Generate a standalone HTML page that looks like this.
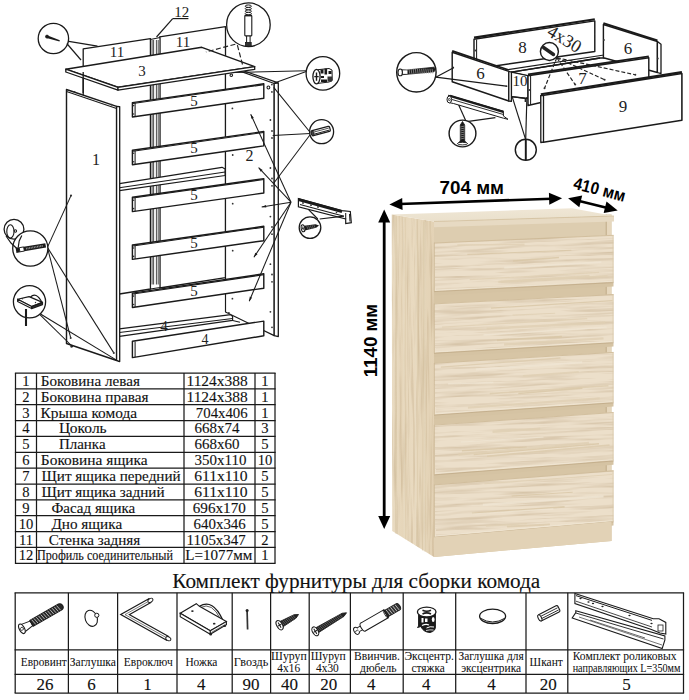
<!DOCTYPE html>
<html><head><meta charset="utf-8"><style>
html,body{margin:0;padding:0;background:#fff;}
body{width:689px;height:700px;overflow:hidden;position:relative;}
svg{position:absolute;left:0;top:0;}
</style></head><body>
<svg width="689" height="700" viewBox="0 0 689 700">
<defs>
<linearGradient id="sideg" x1="0" y1="0" x2="1" y2="0">
<stop offset="0" stop-color="#e9dbc2"/><stop offset="0.25" stop-color="#e6d6ba"/><stop offset="0.5" stop-color="#e9dac0"/>
<stop offset="0.75" stop-color="#e5d5b9"/><stop offset="1" stop-color="#e3d2b5"/>
</linearGradient>
<linearGradient id="topg" x1="0" y1="0" x2="0" y2="1">
<stop offset="0" stop-color="#efe6d5"/><stop offset="1" stop-color="#eae0cc"/>
</linearGradient>
<filter id="woodH" x="0" y="0" width="100%" height="100%" color-interpolation-filters="sRGB">
<feTurbulence type="fractalNoise" baseFrequency="0.014 0.38" numOctaves="3" seed="7"/>
<feColorMatrix type="matrix" values="0 0 0 0 0.62  0 0 0 0 0.50  0 0 0 0 0.33  0.75 0 0 0 -0.33"/>
</filter>
<filter id="woodV" x="0" y="0" width="100%" height="100%" color-interpolation-filters="sRGB">
<feTurbulence type="fractalNoise" baseFrequency="0.4 0.012" numOctaves="3" seed="11"/>
<feColorMatrix type="matrix" values="0 0 0 0 0.62  0 0 0 0 0.50  0 0 0 0 0.33  0.7 0 0 0 -0.31"/>
</filter>
<clipPath id="cpSide"><polygon points="391.8,214.4 434,221.5 434,557 392.2,531"/></clipPath>
</defs>
<polygon points="391.8,214.4 434,221.5 434,557 392.2,531" fill="url(#sideg)"/>
<g clip-path="url(#cpSide)"><rect x="390" y="212" width="46" height="346" filter="url(#woodV)"/></g>
<polygon points="434,221.5 611.5,214.4 611.5,540.9 434,557" fill="#d7c5a5"/>
<polygon points="606.5,214.4 611.5,214.4 611.5,540.9 606.5,540.9" fill="#e6d7bd"/>
<polygon points="434,226 606.5,218.7 606.5,235.3 434,243" fill="#ddcdb0"/>
<line x1="606.2" y1="214.4" x2="606.2" y2="540.9" stroke="#bfa987" stroke-width="0.9"/>
<polygon points="391.8,214.4 572,208.3 614,216 434,221.5" fill="url(#topg)"/>
<polygon points="434,221.5 614,216 614,221.5 434,227.2" fill="#e7dac3"/>
<line x1="434" y1="221.5" x2="614" y2="216" stroke="#cdb994" stroke-width="0.6"/>
<polygon points="434.0,291.4 613.5,282.4 613.5,286.4 434.0,295.4" fill="#d5c3a3"/>
<polygon points="434.0,242.7 613.5,235.0 613.5,282.4 434.0,291.4" fill="#ecdfca"/>
<clipPath id="cpD0"><polygon points="434.0,242.7 613.5,235.0 613.5,282.4 434.0,291.4"/></clipPath>
<g clip-path="url(#cpD0)"><rect x="434.0" y="233.0" width="179.5" height="60.4" filter="url(#woodH)" transform="rotate(-2.6 434.0 242.7)"/></g>
<line x1="467.3" y1="254.4" x2="571.4" y2="250.2" stroke="#d9c7a7" stroke-width="1.1" opacity="0.8"/>
<line x1="457.3" y1="245.2" x2="524.6" y2="244.3" stroke="#e0d0b4" stroke-width="1.7" opacity="0.8"/>
<line x1="469.7" y1="279.7" x2="599.1" y2="272.3" stroke="#e0d0b4" stroke-width="1.2" opacity="0.8"/>
<line x1="500.7" y1="281.9" x2="589.6" y2="275.8" stroke="#e0d0b4" stroke-width="2.1" opacity="0.8"/>
<line x1="504.2" y1="267.6" x2="601.3" y2="262.1" stroke="#f0e6d4" stroke-width="1.9" opacity="0.8"/>
<line x1="498.3" y1="281.8" x2="607.6" y2="276.0" stroke="#e0d0b4" stroke-width="2.2" opacity="0.8"/>
<line x1="513.1" y1="261.0" x2="559.0" y2="257.5" stroke="#d9c7a7" stroke-width="1.3" opacity="0.8"/>
<line x1="434.0" y1="290.2" x2="613.5" y2="281.2" stroke="#efe5d3" stroke-width="0.9"/>
<line x1="434.0" y1="291.59999999999997" x2="613.5" y2="282.6" stroke="#c2ad8a" stroke-width="0.9"/>
<line x1="434.0" y1="243.0" x2="613.5" y2="235.3" stroke="#cdb995" stroke-width="0.8"/>
<line x1="434.4" y1="242.7" x2="434.4" y2="291.4" stroke="#cbb794" stroke-width="0.8"/>
<line x1="613.1" y1="235.0" x2="613.1" y2="282.4" stroke="#d8c7a8" stroke-width="0.8"/>
<polygon points="434.0,353.1 613.5,342.5 613.5,346.5 434.0,357.1" fill="#d5c3a3"/>
<polygon points="434.0,303.6 613.5,294.3 613.5,342.5 434.0,353.1" fill="#ecdfca"/>
<clipPath id="cpD1"><polygon points="434.0,303.6 613.5,294.3 613.5,342.5 434.0,353.1"/></clipPath>
<g clip-path="url(#cpD1)"><rect x="434.0" y="292.3" width="179.5" height="62.8" filter="url(#woodH)" transform="rotate(-2.6 434.0 303.6)"/></g>
<line x1="504.1" y1="344.5" x2="603.5" y2="338.3" stroke="#e0d0b4" stroke-width="2.3" opacity="0.8"/>
<line x1="486.6" y1="328.6" x2="605.2" y2="322.7" stroke="#e0d0b4" stroke-width="2.4" opacity="0.8"/>
<line x1="496.9" y1="340.2" x2="561.9" y2="336.6" stroke="#d9c7a7" stroke-width="1.9" opacity="0.8"/>
<line x1="491.0" y1="308.1" x2="612.5" y2="300.7" stroke="#d9c7a7" stroke-width="1.2" opacity="0.8"/>
<line x1="442.0" y1="327.1" x2="587.3" y2="318.7" stroke="#e0d0b4" stroke-width="1.2" opacity="0.8"/>
<line x1="512.5" y1="315.1" x2="555.2" y2="313.3" stroke="#e0d0b4" stroke-width="1.1" opacity="0.8"/>
<line x1="483.6" y1="335.0" x2="606.5" y2="327.1" stroke="#f0e6d4" stroke-width="1.4" opacity="0.8"/>
<line x1="434.0" y1="351.90000000000003" x2="613.5" y2="341.3" stroke="#efe5d3" stroke-width="0.9"/>
<line x1="434.0" y1="353.3" x2="613.5" y2="342.7" stroke="#c2ad8a" stroke-width="0.9"/>
<line x1="434.0" y1="303.90000000000003" x2="613.5" y2="294.6" stroke="#cdb995" stroke-width="0.8"/>
<line x1="434.4" y1="303.6" x2="434.4" y2="353.1" stroke="#cbb794" stroke-width="0.8"/>
<line x1="613.1" y1="294.3" x2="613.1" y2="342.5" stroke="#d8c7a8" stroke-width="0.8"/>
<polygon points="434.0,414.9 613.5,402.6 613.5,406.6 434.0,418.9" fill="#d5c3a3"/>
<polygon points="434.0,363 613.5,352.1 613.5,402.6 434.0,414.9" fill="#ecdfca"/>
<clipPath id="cpD2"><polygon points="434.0,363 613.5,352.1 613.5,402.6 434.0,414.9"/></clipPath>
<g clip-path="url(#cpD2)"><rect x="434.0" y="350.1" width="179.5" height="66.8" filter="url(#woodH)" transform="rotate(-2.6 434.0 363)"/></g>
<line x1="440.9" y1="367.2" x2="560.4" y2="358.0" stroke="#dccbad" stroke-width="1.3" opacity="0.8"/>
<line x1="448.1" y1="383.8" x2="493.4" y2="382.4" stroke="#f0e6d4" stroke-width="1.5" opacity="0.8"/>
<line x1="467.9" y1="407.7" x2="599.8" y2="398.3" stroke="#e0d0b4" stroke-width="2.3" opacity="0.8"/>
<line x1="489.8" y1="393.6" x2="608.5" y2="385.8" stroke="#dccbad" stroke-width="1.6" opacity="0.8"/>
<line x1="518.3" y1="393.5" x2="582.4" y2="388.3" stroke="#d9c7a7" stroke-width="1.5" opacity="0.8"/>
<line x1="522.9" y1="375.9" x2="578.8" y2="371.9" stroke="#e0d0b4" stroke-width="1.9" opacity="0.8"/>
<line x1="476.0" y1="369.5" x2="582.2" y2="362.3" stroke="#f0e6d4" stroke-width="2.1" opacity="0.8"/>
<line x1="434.0" y1="413.7" x2="613.5" y2="401.4" stroke="#efe5d3" stroke-width="0.9"/>
<line x1="434.0" y1="415.09999999999997" x2="613.5" y2="402.8" stroke="#c2ad8a" stroke-width="0.9"/>
<line x1="434.0" y1="363.3" x2="613.5" y2="352.4" stroke="#cdb995" stroke-width="0.8"/>
<line x1="434.4" y1="363" x2="434.4" y2="414.9" stroke="#cbb794" stroke-width="0.8"/>
<line x1="613.1" y1="352.1" x2="613.1" y2="402.6" stroke="#d8c7a8" stroke-width="0.8"/>
<polygon points="434.0,474.7 613.5,460.8 613.5,464.8 434.0,478.7" fill="#d5c3a3"/>
<polygon points="434.0,424.8 613.5,412.2 613.5,460.8 434.0,474.7" fill="#ecdfca"/>
<clipPath id="cpD3"><polygon points="434.0,424.8 613.5,412.2 613.5,460.8 434.0,474.7"/></clipPath>
<g clip-path="url(#cpD3)"><rect x="434.0" y="410.2" width="179.5" height="66.5" filter="url(#woodH)" transform="rotate(-2.6 434.0 424.8)"/></g>
<line x1="487.0" y1="456.2" x2="609.6" y2="445.1" stroke="#dccbad" stroke-width="1.6" opacity="0.8"/>
<line x1="487.3" y1="451.4" x2="554.9" y2="445.8" stroke="#f0e6d4" stroke-width="1.5" opacity="0.8"/>
<line x1="461.0" y1="442.0" x2="543.5" y2="437.1" stroke="#f0e6d4" stroke-width="1.0" opacity="0.8"/>
<line x1="461.9" y1="450.7" x2="526.7" y2="447.1" stroke="#d9c7a7" stroke-width="1.4" opacity="0.8"/>
<line x1="492.5" y1="431.8" x2="540.3" y2="428.8" stroke="#e0d0b4" stroke-width="2.4" opacity="0.8"/>
<line x1="473.5" y1="454.5" x2="599.0" y2="443.8" stroke="#d9c7a7" stroke-width="1.5" opacity="0.8"/>
<line x1="458.4" y1="454.5" x2="589.0" y2="442.9" stroke="#e0d0b4" stroke-width="2.4" opacity="0.8"/>
<line x1="434.0" y1="473.5" x2="613.5" y2="459.6" stroke="#efe5d3" stroke-width="0.9"/>
<line x1="434.0" y1="474.9" x2="613.5" y2="461.0" stroke="#c2ad8a" stroke-width="0.9"/>
<line x1="434.0" y1="425.1" x2="613.5" y2="412.5" stroke="#cdb995" stroke-width="0.8"/>
<line x1="434.4" y1="424.8" x2="434.4" y2="474.7" stroke="#cbb794" stroke-width="0.8"/>
<line x1="613.1" y1="412.2" x2="613.1" y2="460.8" stroke="#d8c7a8" stroke-width="0.8"/>
<polygon points="434.0,537.2 613.5,521.6 613.5,525.6 434.0,541.2" fill="#d5c3a3"/>
<polygon points="434.0,484.6 613.5,470.4 613.5,521.6 434.0,537.2" fill="#ecdfca"/>
<clipPath id="cpD4"><polygon points="434.0,484.6 613.5,470.4 613.5,521.6 434.0,537.2"/></clipPath>
<g clip-path="url(#cpD4)"><rect x="434.0" y="468.4" width="179.5" height="70.8" filter="url(#woodH)" transform="rotate(-2.6 434.0 484.6)"/></g>
<line x1="511.7" y1="496.0" x2="572.7" y2="492.3" stroke="#d9c7a7" stroke-width="1.1" opacity="0.8"/>
<line x1="471.9" y1="513.3" x2="564.6" y2="506.9" stroke="#d9c7a7" stroke-width="1.7" opacity="0.8"/>
<line x1="471.8" y1="514.0" x2="553.4" y2="508.8" stroke="#f0e6d4" stroke-width="1.2" opacity="0.8"/>
<line x1="484.3" y1="483.8" x2="612.2" y2="474.5" stroke="#e0d0b4" stroke-width="1.0" opacity="0.8"/>
<line x1="482.9" y1="504.8" x2="603.5" y2="496.4" stroke="#f0e6d4" stroke-width="2.3" opacity="0.8"/>
<line x1="506.9" y1="526.6" x2="549.9" y2="524.5" stroke="#dccbad" stroke-width="2.0" opacity="0.8"/>
<line x1="485.9" y1="526.2" x2="527.1" y2="523.7" stroke="#e0d0b4" stroke-width="1.3" opacity="0.8"/>
<line x1="434.0" y1="536.0" x2="613.5" y2="520.4" stroke="#efe5d3" stroke-width="0.9"/>
<line x1="434.0" y1="537.4000000000001" x2="613.5" y2="521.8" stroke="#c2ad8a" stroke-width="0.9"/>
<line x1="434.0" y1="484.90000000000003" x2="613.5" y2="470.7" stroke="#cdb995" stroke-width="0.8"/>
<line x1="434.4" y1="484.6" x2="434.4" y2="537.2" stroke="#cbb794" stroke-width="0.8"/>
<line x1="613.1" y1="470.4" x2="613.1" y2="521.6" stroke="#d8c7a8" stroke-width="0.8"/>
<polygon points="434.0,537.2 611.5,521.6 611.5,540.9 434.0,557" fill="#e2d2b6"/>
<line x1="405.4" y1="218.3" x2="405.7" y2="539.3" stroke="#dccbac" stroke-width="0.9" opacity="0.6"/>
<line x1="396.0" y1="216.7" x2="396.8" y2="533.5" stroke="#d9c8a8" stroke-width="0.8" opacity="0.6"/>
<line x1="403.6" y1="218.0" x2="404.3" y2="538.2" stroke="#e8dcc5" stroke-width="1.1" opacity="0.6"/>
<line x1="396.3" y1="216.8" x2="395.8" y2="533.7" stroke="#d9c8a8" stroke-width="0.9" opacity="0.6"/>
<line x1="425.0" y1="221.7" x2="424.4" y2="551.5" stroke="#e8dcc5" stroke-width="1.2" opacity="0.6"/>
<line x1="424.6" y1="221.6" x2="425.3" y2="551.2" stroke="#d9c8a8" stroke-width="0.9" opacity="0.6"/>
<line x1="415.7" y1="220.1" x2="415.5" y2="545.7" stroke="#e8dcc5" stroke-width="0.7" opacity="0.6"/>
<line x1="417.5" y1="220.4" x2="417.5" y2="546.8" stroke="#d9c8a8" stroke-width="0.9" opacity="0.6"/>
<line x1="423.5" y1="221.4" x2="422.5" y2="550.5" stroke="#d9c8a8" stroke-width="1.1" opacity="0.6"/>
<line x1="399.8" y1="204.0" x2="551.7" y2="198.7" stroke="#000" stroke-width="2.6"/><polygon points="389.4,204.4 402.6,209.9 402.2,197.9" fill="#000"/><polygon points="562.1,198.3 549.3,204.8 548.9,192.8" fill="#000"/>
<line x1="578.2" y1="200.8" x2="607.6" y2="207.9" stroke="#000" stroke-width="2.6"/><polygon points="568.1,198.3 579.3,207.2 582.2,195.6" fill="#000"/><polygon points="617.7,210.4 603.6,213.1 606.5,201.5" fill="#000"/>
<line x1="384.2" y1="219.9" x2="384.2" y2="518.6" stroke="#000" stroke-width="2.8"/><polygon points="384.2,209.5 378.2,222.5 390.2,222.5" fill="#000"/><polygon points="384.2,529.0 378.2,516.0 390.2,516.0" fill="#000"/>
<text x="439.5" y="193.8" font-family="Liberation Sans, sans-serif" font-weight="bold" font-size="18.5" textLength="64.5" lengthAdjust="spacingAndGlyphs">704 мм</text>
<text transform="translate(572.5,188.5) rotate(14.6)" font-family="Liberation Sans, sans-serif" font-weight="bold" font-size="17" textLength="53" lengthAdjust="spacingAndGlyphs">410 мм</text>
<text transform="translate(377.3,377.3) rotate(-90)" font-family="Liberation Sans, sans-serif" font-weight="bold" font-size="18.5" textLength="73.5" lengthAdjust="spacingAndGlyphs">1140 мм</text>
<g transform="translate(21.9,628.8) rotate(-29.7)"><path d="M1,-4.2 L11,-2.6 L11,2.6 L1,4.2 Z" fill="#fff" stroke="#1a1a1a" stroke-width="1"/><ellipse cx="0" cy="0" rx="2.6" ry="5.2" fill="#fff" stroke="#1a1a1a" stroke-width="1.1"/><circle cx="0" cy="0" r="1.5" fill="none" stroke="#1a1a1a" stroke-width="0.8"/><path d="M11,-3.4 L44,-3.4 Q47,-3 47,0 Q47,3 44,3.4 L11,3.4 Z" fill="#2a2a2a" stroke="#1a1a1a" stroke-width="1"/><line x1="13.0" y1="-3" x2="14.2" y2="3" stroke="#ddd" stroke-width="0.7"/><line x1="15.6" y1="-3" x2="16.8" y2="3" stroke="#ddd" stroke-width="0.7"/><line x1="18.2" y1="-3" x2="19.4" y2="3" stroke="#ddd" stroke-width="0.7"/><line x1="20.8" y1="-3" x2="22.0" y2="3" stroke="#ddd" stroke-width="0.7"/><line x1="23.4" y1="-3" x2="24.6" y2="3" stroke="#ddd" stroke-width="0.7"/><line x1="26.0" y1="-3" x2="27.2" y2="3" stroke="#ddd" stroke-width="0.7"/><line x1="28.6" y1="-3" x2="29.8" y2="3" stroke="#ddd" stroke-width="0.7"/><line x1="31.2" y1="-3" x2="32.4" y2="3" stroke="#ddd" stroke-width="0.7"/><line x1="33.8" y1="-3" x2="35.0" y2="3" stroke="#ddd" stroke-width="0.7"/><line x1="36.4" y1="-3" x2="37.6" y2="3" stroke="#ddd" stroke-width="0.7"/><line x1="39.0" y1="-3" x2="40.2" y2="3" stroke="#ddd" stroke-width="0.7"/><line x1="41.6" y1="-3" x2="42.8" y2="3" stroke="#ddd" stroke-width="0.7"/></g>
<ellipse cx="91.2" cy="618.3" rx="6" ry="8.3" transform="rotate(-20 91.2 618.3)" fill="#fff" stroke="#1a1a1a" stroke-width="1.1"/>
<circle cx="96.8" cy="615.3" r="2.1" fill="#fff" stroke="#1a1a1a" stroke-width="1"/>
<polyline points="150.3,600.4 125,614.6 168.1,638.6" fill="none" stroke="#1a1a1a" stroke-width="5.4" stroke-linejoin="miter"/><polyline points="150.3,600.4 125,614.6 168.1,638.6" fill="none" stroke="#fff" stroke-width="3.0" stroke-linejoin="miter"/><polyline points="150.3,600.4 125,614.6 168.1,638.6" fill="none" stroke="#444" stroke-width="0.7" stroke-linejoin="miter"/><ellipse cx="168.3" cy="638.7" rx="1.8" ry="2.7" transform="rotate(-62 168.3 638.7)" fill="#fff" stroke="#1a1a1a" stroke-width="0.9"/><ellipse cx="150.4" cy="600.3" rx="1.8" ry="2.7" transform="rotate(60 150.4 600.3)" fill="#fff" stroke="#1a1a1a" stroke-width="0.9"/>
<path d="M199.4,606.3 Q213,598.5 222.5,619.6" fill="none" stroke="#1a1a1a" stroke-width="1.3"/>
<path d="M200.5,607.5 Q212,601.5 220.5,619.2" fill="none" stroke="#1a1a1a" stroke-width="0.7"/>
<polygon points="180.2,613.3 196.3,603.7 199.4,606.3 226.4,621.6 210.3,630.7" fill="#fff" stroke="#1a1a1a" stroke-width="1.1"/>
<polygon points="180.2,613.3 210.3,630.7 210.3,634.2 180.2,616.8" fill="#fff" stroke="#1a1a1a" stroke-width="1.1"/>
<polygon points="210.3,630.7 226.4,621.6 226.4,624.6 210.3,634.2" fill="#fff" stroke="#1a1a1a" stroke-width="1.1"/>
<line x1="211.3" y1="632.5" x2="225.5" y2="624.3" stroke="#1a1a1a" stroke-width="0.6"/>
<ellipse cx="210.8" cy="634.6" rx="1.3" ry="1" fill="#222"/><ellipse cx="224.8" cy="626" rx="1.3" ry="1" fill="#222"/>
<ellipse cx="192.4" cy="611.1" rx="1.3" ry="0.9" fill="#222"/><ellipse cx="214.2" cy="623.7" rx="1.3" ry="0.9" fill="#222"/>
<line x1="247.1" y1="611" x2="247.6" y2="629.6" stroke="#333" stroke-width="1.7"/>
<circle cx="247.1" cy="610.4" r="1.5" fill="#222"/>
<g transform="translate(279.6,625.2) rotate(-29.5)"><path d="M1,-3.1 L17.7,-2.0 L21.7,0 L17.7,2.0 L1,3.1 Z" fill="#222" stroke="#1a1a1a" stroke-width="0.8"/><line x1="3.0" y1="-2.5" x2="4.0" y2="2.5" stroke="#888" stroke-width="0.5"/><line x1="4.9" y1="-2.5" x2="5.9" y2="2.5" stroke="#888" stroke-width="0.5"/><line x1="6.8" y1="-2.5" x2="7.8" y2="2.5" stroke="#888" stroke-width="0.5"/><line x1="8.7" y1="-2.5" x2="9.7" y2="2.5" stroke="#888" stroke-width="0.5"/><line x1="10.6" y1="-2.5" x2="11.6" y2="2.5" stroke="#888" stroke-width="0.5"/><line x1="12.5" y1="-2.5" x2="13.5" y2="2.5" stroke="#888" stroke-width="0.5"/><line x1="14.4" y1="-2.5" x2="15.4" y2="2.5" stroke="#888" stroke-width="0.5"/><line x1="16.3" y1="-2.5" x2="17.3" y2="2.5" stroke="#888" stroke-width="0.5"/><ellipse cx="0" cy="0" rx="2.8" ry="5.1" fill="#fff" stroke="#1a1a1a" stroke-width="1.1"/><line x1="-2" y1="0" x2="2" y2="0" stroke="#1a1a1a" stroke-width="1"/><line x1="0" y1="-3" x2="0" y2="3" stroke="#1a1a1a" stroke-width="1"/></g>
<g transform="translate(315.3,631.3) rotate(-30.7)"><path d="M1,-2.8000000000000003 L32.3,-1.8 L36.3,0 L32.3,1.8 L1,2.8000000000000003 Z" fill="#222" stroke="#1a1a1a" stroke-width="0.8"/><line x1="3.0" y1="-2.2" x2="4.0" y2="2.2" stroke="#888" stroke-width="0.5"/><line x1="4.9" y1="-2.2" x2="5.9" y2="2.2" stroke="#888" stroke-width="0.5"/><line x1="6.8" y1="-2.2" x2="7.8" y2="2.2" stroke="#888" stroke-width="0.5"/><line x1="8.7" y1="-2.2" x2="9.7" y2="2.2" stroke="#888" stroke-width="0.5"/><line x1="10.6" y1="-2.2" x2="11.6" y2="2.2" stroke="#888" stroke-width="0.5"/><line x1="12.5" y1="-2.2" x2="13.5" y2="2.2" stroke="#888" stroke-width="0.5"/><line x1="14.4" y1="-2.2" x2="15.4" y2="2.2" stroke="#888" stroke-width="0.5"/><line x1="16.3" y1="-2.2" x2="17.3" y2="2.2" stroke="#888" stroke-width="0.5"/><line x1="18.2" y1="-2.2" x2="19.2" y2="2.2" stroke="#888" stroke-width="0.5"/><line x1="20.1" y1="-2.2" x2="21.1" y2="2.2" stroke="#888" stroke-width="0.5"/><line x1="22.0" y1="-2.2" x2="23.0" y2="2.2" stroke="#888" stroke-width="0.5"/><line x1="23.9" y1="-2.2" x2="24.9" y2="2.2" stroke="#888" stroke-width="0.5"/><line x1="25.8" y1="-2.2" x2="26.8" y2="2.2" stroke="#888" stroke-width="0.5"/><line x1="27.7" y1="-2.2" x2="28.7" y2="2.2" stroke="#888" stroke-width="0.5"/><line x1="29.6" y1="-2.2" x2="30.6" y2="2.2" stroke="#888" stroke-width="0.5"/><ellipse cx="0" cy="0" rx="2.8" ry="4.8" fill="#fff" stroke="#1a1a1a" stroke-width="1.1"/><line x1="-2" y1="0" x2="2" y2="0" stroke="#1a1a1a" stroke-width="1"/><line x1="0" y1="-3" x2="0" y2="3" stroke="#1a1a1a" stroke-width="1"/></g>
<g transform="translate(356.5,630.8) rotate(-30)"><ellipse cx="0" cy="0" rx="2.4" ry="3.8" fill="#fff" stroke="#1a1a1a" stroke-width="1"/><line x1="-1.5" y1="0" x2="1.5" y2="0" stroke="#1a1a1a" stroke-width="0.8"/><path d="M2,-2.2 L6,-2.2 L6,2.2 L2,2.2" fill="#fff" stroke="#1a1a1a" stroke-width="0.9"/><ellipse cx="7.5" cy="0" rx="2" ry="4.6" fill="#fff" stroke="#1a1a1a" stroke-width="1"/><path d="M7.5,-4.6 L34,-4.6 L34,4.6 L7.5,4.6" fill="#fff" stroke="#1a1a1a" stroke-width="1"/><path d="M34,-3.6 L48,-3.6 Q50,-3.6 50,0 Q50,3.6 48,3.6 L34,3.6 Z" fill="#333" stroke="#1a1a1a" stroke-width="0.9"/><line x1="36.0" y1="-3.3" x2="37.0" y2="3.3" stroke="#ccc" stroke-width="0.8"/><line x1="38.6" y1="-3.3" x2="39.6" y2="3.3" stroke="#ccc" stroke-width="0.8"/><line x1="41.2" y1="-3.3" x2="42.2" y2="3.3" stroke="#ccc" stroke-width="0.8"/><line x1="43.8" y1="-3.3" x2="44.8" y2="3.3" stroke="#ccc" stroke-width="0.8"/><line x1="46.4" y1="-3.3" x2="47.4" y2="3.3" stroke="#ccc" stroke-width="0.8"/><ellipse cx="34" cy="0" rx="1.4" ry="4.6" fill="none" stroke="#1a1a1a" stroke-width="0.8"/></g>
<path d="M418.6,613 L418.6,626 L417.5,627.5 L421,626.5 Q423,632 430,632.5 Q436,631 435.4,626 L435.4,613 Z" fill="#1a1a1a" stroke="#1a1a1a" stroke-width="1"/>
<rect x="421.5" y="618" width="2" height="4.5" fill="#fff"/><rect x="425" y="618.5" width="2.5" height="3.5" fill="#fff"/>
<path d="M422,625.5 Q426,623.5 429,625" fill="none" stroke="#fff" stroke-width="1.2"/>
<path d="M426.5,628 Q430,626 434,627" fill="none" stroke="#fff" stroke-width="1"/>
<path d="M426,630.5 Q430,629.5 433.5,630" fill="none" stroke="#fff" stroke-width="0.8"/>
<ellipse cx="433.2" cy="619.5" rx="1.4" ry="2.6" fill="#fff"/>
<ellipse cx="426.7" cy="612" rx="9.3" ry="4.9" fill="#fff" stroke="#1a1a1a" stroke-width="1.3"/>
<path d="M422.5,610.2 Q426.7,612.3 431,610.2 M422.5,614 Q426.7,611.8 431,614" fill="none" stroke="#1a1a1a" stroke-width="1.6"/>
<ellipse cx="492.6" cy="616.3" rx="13" ry="7.2" fill="#fff" stroke="#1a1a1a" stroke-width="1.3"/>
<path d="M480,618 Q492.6,626 505.3,618" fill="none" stroke="#1a1a1a" stroke-width="1"/>
<g transform="translate(539.3,618.2) rotate(-27)"><rect x="0" y="-3.4" width="22" height="6.8" rx="1.5" fill="#fff" stroke="#1a1a1a" stroke-width="1.1"/><line x1="2" y1="-1" x2="21" y2="-1" stroke="#1a1a1a" stroke-width="0.8"/><line x1="2" y1="1.4" x2="21" y2="1.4" stroke="#1a1a1a" stroke-width="0.8"/><ellipse cx="0.6" cy="0" rx="1.6" ry="3.4" fill="#fff" stroke="#1a1a1a" stroke-width="1"/></g>
<polygon points="574.9,593.6 653.2,618.8 659,618.8 665.8,622.4 665.8,634.1 660,633 651.4,629.6 574.9,603.5" fill="#fff" stroke="#1a1a1a" stroke-width="1.1"/>
<line x1="576" y1="595.6" x2="652" y2="620.4" stroke="#1a1a1a" stroke-width="1"/>
<line x1="576" y1="601.2" x2="652" y2="627" stroke="#1a1a1a" stroke-width="0.8"/>
<ellipse cx="580.5" cy="598.5" rx="1.2" ry="0.8" fill="#222"/>
<ellipse cx="588.5" cy="602" rx="1.2" ry="0.8" fill="#222"/>
<ellipse cx="593" cy="603.5" rx="1.2" ry="0.8" fill="#222"/>
<ellipse cx="602.5" cy="606.5" rx="1.2" ry="0.8" fill="#222"/>
<ellipse cx="629.5" cy="615.5" rx="1.2" ry="0.8" fill="#222"/>
<ellipse cx="651.5" cy="623.5" rx="1.2" ry="0.8" fill="#222"/>
<rect x="658" y="625" width="5" height="6" fill="#fff" stroke="#1a1a1a" stroke-width="0.8"/>
<polygon points="575.8,610.7 664.9,635.9 664.9,640 662.2,648.5 572.2,617.9 575.8,612.5" fill="#fff" stroke="#1a1a1a" stroke-width="1.1"/>
<line x1="575.8" y1="613" x2="663.5" y2="639" stroke="#1a1a1a" stroke-width="0.9"/>
<line x1="579" y1="617" x2="662" y2="645" stroke="#1a1a1a" stroke-width="0.6"/>
<line x1="590" y1="620" x2="645" y2="638" stroke="#555" stroke-width="0.9"/>
<g font-family="Liberation Serif, serif" fill="#222"><polygon points="83.2,48.9 150.5,38.7 150.5,289.0 119.4,294.0 83.2,294.0" fill="#fff" stroke="#1a1a1a" stroke-width="1.30" stroke-linejoin="round"/>
<polygon points="159.6,36.9 225.5,26.6 225.5,277.7 159.6,288.0" fill="#fff" stroke="#1a1a1a" stroke-width="1.30" stroke-linejoin="round"/>
<polygon points="150.5,39.5 160.0,37.5 160.0,287.5 150.5,289.0" fill="#fff" stroke="#1a1a1a" stroke-width="1.17" stroke-linejoin="round"/>
<line x1="152.1" y1="40.0" x2="152.1" y2="284.5" stroke="#1a1a1a" stroke-width="0.78" />
<line x1="153.6" y1="40.0" x2="153.6" y2="284.5" stroke="#1a1a1a" stroke-width="0.78" />
<line x1="156.4" y1="40.0" x2="156.4" y2="284.5" stroke="#1a1a1a" stroke-width="0.78" />
<line x1="158.2" y1="40.0" x2="158.2" y2="284.5" stroke="#1a1a1a" stroke-width="0.78" />
<polygon points="119.4,183.6 222.0,167.3 225.1,169.0 225.1,175.5 119.4,190.6" fill="#fff" stroke="#1a1a1a" stroke-width="1.17" stroke-linejoin="round"/>
<line x1="119.4" y1="187.7" x2="225.1" y2="172.0" stroke="#1a1a1a" stroke-width="1.04" />
<polygon points="119.4,328.9 230.8,314.7 232.6,316.5 232.6,320.4 119.4,336.4" fill="#fff" stroke="#1a1a1a" stroke-width="1.17" stroke-linejoin="round"/>
<line x1="119.4" y1="332.6" x2="232.6" y2="318.5" stroke="#1a1a1a" stroke-width="1.04" />
<line x1="232.6" y1="320.4" x2="240.0" y2="322.3" stroke="#1a1a1a" stroke-width="1.04" />
<text x="164" y="331" font-size="15" text-anchor="middle" >4</text>
<polygon points="225.5,65.9 274.2,83.5 274.2,335.6 225.5,312.0" fill="#fff" stroke="#1a1a1a" stroke-width="1.17" stroke-linejoin="round"/>
<polygon points="274.2,83.5 278.3,82.9 278.3,336.6 274.2,335.6" fill="#fff" stroke="#1a1a1a" stroke-width="1.30" stroke-linejoin="round"/>
<line x1="225.5" y1="64.5" x2="278.3" y2="82.9" stroke="#1a1a1a" stroke-width="1.30" />
<circle cx="232.7" cy="203.7" r="0.9" fill="#333"/>
<circle cx="232.7" cy="250.7" r="0.9" fill="#333"/>
<circle cx="232.4" cy="298.7" r="0.9" fill="#333"/>
<circle cx="270.4" cy="216.6" r="0.9" fill="#333"/>
<circle cx="272" cy="227" r="0.9" fill="#333"/>
<circle cx="272" cy="234.2" r="0.9" fill="#333"/>
<circle cx="270.4" cy="264.2" r="0.9" fill="#333"/>
<circle cx="272" cy="274.5" r="0.9" fill="#333"/>
<circle cx="272" cy="281.8" r="0.9" fill="#333"/>
<circle cx="270.4" cy="311.8" r="0.9" fill="#333"/>
<circle cx="272" cy="327.3" r="0.9" fill="#333"/>
<circle cx="228.9" cy="312.8" r="0.9" fill="#333"/>
<circle cx="232.4" cy="108.4" r="0.9" fill="#333"/>
<circle cx="232.7" cy="155" r="0.9" fill="#333"/>
<circle cx="270.4" cy="120" r="0.9" fill="#333"/>
<circle cx="272" cy="131" r="0.9" fill="#333"/>
<circle cx="272" cy="138" r="0.9" fill="#333"/>
<circle cx="270.4" cy="168" r="0.9" fill="#333"/>
<circle cx="272" cy="178.5" r="0.9" fill="#333"/>
<circle cx="272" cy="185.8" r="0.9" fill="#333"/>
<circle cx="271.9" cy="84.6" r="0.9" fill="#333"/>
<circle cx="271.9" cy="91.9" r="0.9" fill="#333"/>
<circle cx="231.3" cy="75.3" r="1.3" fill="#fff" stroke="#1a1a1a" stroke-width="1.04"/>
<circle cx="268.4" cy="87.5" r="1.4" fill="#fff" stroke="#1a1a1a" stroke-width="1.04"/>
<text x="249.5" y="161" font-size="16" text-anchor="middle" >2</text>
<polygon points="65.8,69.2 201.8,47.3 254.7,66.6 118.0,87.3" fill="#fff" stroke="#1a1a1a" stroke-width="1.43" stroke-linejoin="round"/>
<polygon points="65.8,69.2 118.0,87.3 118.0,90.2 65.8,72.0" fill="#fff" stroke="#1a1a1a" stroke-width="1.30" stroke-linejoin="round"/>
<polygon points="118.0,87.3 254.7,66.6 254.7,69.4 118.0,90.2" fill="#fff" stroke="#1a1a1a" stroke-width="1.30" stroke-linejoin="round"/>
<text x="142" y="76" font-size="15" text-anchor="middle" >3</text>
<text x="117" y="57" font-size="15" text-anchor="middle" >11</text>
<text x="183" y="46.5" font-size="15" text-anchor="middle" >11</text>
<polygon points="66.5,89.5 116.6,106.4 116.6,360.5 66.5,343.5" fill="#fff" stroke="#1a1a1a" stroke-width="1.43" stroke-linejoin="round"/>
<polygon points="116.6,106.4 119.7,106.6 119.7,361.6 116.6,360.5" fill="#fff" stroke="#1a1a1a" stroke-width="1.30" stroke-linejoin="round"/>
<line x1="66.5" y1="91.5" x2="116.6" y2="108.5" stroke="#1a1a1a" stroke-width="1.04" />
<circle cx="74.5" cy="91.8" r="0.9" fill="#333"/>
<circle cx="111.5" cy="104.7" r="0.9" fill="#333"/>
<text x="96" y="165" font-size="16" text-anchor="middle" >1</text>
<line x1="83.2" y1="72.0" x2="83.2" y2="93.0" stroke="#1a1a1a" stroke-width="1.30" />
<polygon points="132.4,102.6 263.8,83.8 263.8,98.2 132.4,117.0" fill="#fff" stroke="#1a1a1a" stroke-width="1.43" stroke-linejoin="round"/>
<line x1="133.0" y1="103.5" x2="263.8" y2="84.7" stroke="#1a1a1a" stroke-width="1.04" />
<line x1="135.1" y1="103.0" x2="135.1" y2="116.6" stroke="#1a1a1a" stroke-width="1.04" />
<circle cx="133.6" cy="105.6" r="0.8" fill="#333"/>
<circle cx="133.6" cy="114.0" r="0.8" fill="#333"/>
<text x="194" y="105.69999999999999" font-size="15" text-anchor="middle" >5</text>
<polygon points="132.4,150.3 263.8,131.5 263.8,145.9 132.4,164.7" fill="#fff" stroke="#1a1a1a" stroke-width="1.43" stroke-linejoin="round"/>
<line x1="133.0" y1="151.2" x2="263.8" y2="132.4" stroke="#1a1a1a" stroke-width="1.04" />
<line x1="135.1" y1="150.7" x2="135.1" y2="164.3" stroke="#1a1a1a" stroke-width="1.04" />
<circle cx="133.6" cy="153.3" r="0.8" fill="#333"/>
<circle cx="133.6" cy="161.70000000000002" r="0.8" fill="#333"/>
<text x="194" y="153.4" font-size="15" text-anchor="middle" >5</text>
<polygon points="132.4,197.2 263.8,178.6 263.8,193.0 132.4,211.6" fill="#fff" stroke="#1a1a1a" stroke-width="1.43" stroke-linejoin="round"/>
<line x1="133.0" y1="198.1" x2="263.8" y2="179.5" stroke="#1a1a1a" stroke-width="1.04" />
<line x1="135.1" y1="197.6" x2="135.1" y2="211.2" stroke="#1a1a1a" stroke-width="1.04" />
<circle cx="133.6" cy="200.2" r="0.8" fill="#333"/>
<circle cx="133.6" cy="208.6" r="0.8" fill="#333"/>
<text x="194" y="200.39999999999998" font-size="15" text-anchor="middle" >5</text>
<polygon points="132.4,245.0 263.8,226.3 263.8,240.7 132.4,259.4" fill="#fff" stroke="#1a1a1a" stroke-width="1.43" stroke-linejoin="round"/>
<line x1="133.0" y1="245.9" x2="263.8" y2="227.2" stroke="#1a1a1a" stroke-width="1.04" />
<line x1="135.1" y1="245.4" x2="135.1" y2="259.0" stroke="#1a1a1a" stroke-width="1.04" />
<circle cx="133.6" cy="248" r="0.8" fill="#333"/>
<circle cx="133.6" cy="256.4" r="0.8" fill="#333"/>
<text x="194" y="248.15" font-size="15" text-anchor="middle" >5</text>
<polygon points="132.4,293.1 263.8,273.8 263.8,288.2 132.4,307.5" fill="#fff" stroke="#1a1a1a" stroke-width="1.43" stroke-linejoin="round"/>
<line x1="133.0" y1="294.0" x2="263.8" y2="274.7" stroke="#1a1a1a" stroke-width="1.04" />
<line x1="135.1" y1="293.5" x2="135.1" y2="307.1" stroke="#1a1a1a" stroke-width="1.04" />
<circle cx="133.6" cy="296.1" r="0.8" fill="#333"/>
<circle cx="133.6" cy="304.5" r="0.8" fill="#333"/>
<text x="194" y="295.95000000000005" font-size="15" text-anchor="middle" >5</text>
<polygon points="132.4,341.2 263.8,321.1 263.8,335.8 132.4,357.6" fill="#fff" stroke="#1a1a1a" stroke-width="1.43" stroke-linejoin="round"/>
<line x1="135.1" y1="341.6" x2="135.1" y2="357.2" stroke="#1a1a1a" stroke-width="1.04" />
<text x="205" y="344" font-size="14" text-anchor="middle" >4</text>
<circle cx="53.4" cy="38.5" r="15.2" fill="#fff" stroke="#1a1a1a" stroke-width="1.30"/>
<path d="M47,35.2 L59.8,40.2 L59.5,41.6 L46.6,38 Z" fill="#1a1a1a"/>
<circle cx="47" cy="36.6" r="1.5" fill="#1a1a1a" stroke="#1a1a1a" stroke-width="0.78"/>
<line x1="68.8" y1="41.4" x2="97.5" y2="46.2" stroke="#1a1a1a" stroke-width="1.17" />
<line x1="66.8" y1="43.5" x2="81.0" y2="60.0" stroke="#1a1a1a" stroke-width="1.17" />
<line x1="47.4" y1="247.4" x2="71.0" y2="195.6" stroke="#1a1a1a" stroke-width="1.04" />
<line x1="47.4" y1="247.4" x2="70.7" y2="337.9" stroke="#1a1a1a" stroke-width="1.04" />
<line x1="47.4" y1="247.4" x2="113.8" y2="352.9" stroke="#1a1a1a" stroke-width="1.04" />
<circle cx="71" cy="195.6" r="1.1" fill="#333"/>
<circle cx="70.7" cy="337.9" r="1.0" fill="#333"/>
<circle cx="113.8" cy="352.9" r="1.0" fill="#333"/>
<circle cx="71.5" cy="346.5" r="1.2" fill="#333"/>
<circle cx="14" cy="229.2" r="9.9" fill="#fff" stroke="#1a1a1a" stroke-width="1.30"/>
<ellipse cx="10.4" cy="231.4" rx="3.6" ry="6.6" fill="#fff" stroke="#1a1a1a" stroke-width="1.1"/>
<circle cx="15.4" cy="231" r="1.2" fill="#fff" stroke="#1a1a1a" stroke-width="1.04"/>
<circle cx="30.3" cy="248.5" r="17.6" fill="#fff" stroke="#1a1a1a" stroke-width="1.30"/>
<polyline points="6.0,236.0 11.0,243.0 16.8,248.5" fill="none" stroke="#1a1a1a" stroke-width="1.17" />
<polyline points="21.8,235.5 19.2,241.0 18.2,247.5" fill="none" stroke="#1a1a1a" stroke-width="1.17" />
<g transform="translate(17.6,250.1) rotate(-9.7)"><rect x="-1.6" y="-2.6" width="3.6" height="5.2" fill="#1a1a1a"/><rect x="2" y="-2.1" width="4.5" height="4.2" fill="#fff" stroke="#1a1a1a" stroke-width="0.9"/><rect x="6.5" y="-2.2" width="22" height="4.4" fill="#1a1a1a"/><line x1="9.0" y1="-0.9" x2="9.0" y2="0.9" stroke="#bbb" stroke-width="0.7"/><line x1="10.6" y1="-0.9" x2="10.6" y2="0.9" stroke="#bbb" stroke-width="0.7"/><line x1="12.2" y1="-0.9" x2="12.2" y2="0.9" stroke="#bbb" stroke-width="0.7"/><line x1="13.8" y1="-0.9" x2="13.8" y2="0.9" stroke="#bbb" stroke-width="0.7"/><line x1="15.4" y1="-0.9" x2="15.4" y2="0.9" stroke="#bbb" stroke-width="0.7"/><line x1="17.0" y1="-0.9" x2="17.0" y2="0.9" stroke="#bbb" stroke-width="0.7"/><line x1="18.6" y1="-0.9" x2="18.6" y2="0.9" stroke="#bbb" stroke-width="0.7"/><line x1="20.2" y1="-0.9" x2="20.2" y2="0.9" stroke="#bbb" stroke-width="0.7"/><line x1="21.8" y1="-0.9" x2="21.8" y2="0.9" stroke="#bbb" stroke-width="0.7"/><line x1="23.4" y1="-0.9" x2="23.4" y2="0.9" stroke="#bbb" stroke-width="0.7"/><line x1="25.0" y1="-0.9" x2="25.0" y2="0.9" stroke="#bbb" stroke-width="0.7"/></g>
<line x1="26.0" y1="309.0" x2="26.0" y2="326.0" stroke="#1a1a1a" stroke-width="2.08" />
<circle cx="29.5" cy="301.8" r="16.1" fill="none" stroke="#1a1a1a" stroke-width="1.30"/>
<polygon points="17.6,299.2 29.1,296.6 42.5,302.4 31.6,306.6" fill="#fff" stroke="#1a1a1a" stroke-width="1.17" stroke-linejoin="round"/>
<polygon points="17.6,299.2 31.6,306.6 31.6,308.6 17.6,301.4" fill="#fff" stroke="#1a1a1a" stroke-width="1.17" stroke-linejoin="round"/>
<polygon points="31.6,306.6 42.5,302.4 42.5,304.6 31.6,308.6" fill="#333" stroke="#1a1a1a" stroke-width="1.17" stroke-linejoin="round"/>
<circle cx="22.5" cy="298.7" r="0.7" fill="#333"/>
<circle cx="35.5" cy="302.5" r="0.7" fill="#333"/>
<path d="M30.5,297 Q36,291.5 41.8,302" fill="none" stroke="#1a1a1a" stroke-width="1.2"/>
<line x1="39.9" y1="314.6" x2="72.9" y2="347.0" stroke="#1a1a1a" stroke-width="1.04" />
<line x1="40.5" y1="314.0" x2="119.0" y2="361.6" stroke="#1a1a1a" stroke-width="1.04" />
<text x="181.8" y="17" font-size="15" text-anchor="middle" >12</text>
<line x1="172.7" y1="18.6" x2="188.4" y2="18.6" stroke="#1a1a1a" stroke-width="1.17" />
<line x1="172.7" y1="18.6" x2="156.5" y2="37.0" stroke="#1a1a1a" stroke-width="1.17" />
<line x1="235.3" y1="44.2" x2="205.9" y2="52.0" stroke="#222" stroke-width="1.17" stroke-dasharray="5,2.5"/>
<line x1="237.4" y1="45.2" x2="242.5" y2="64.5" stroke="#222" stroke-width="1.17" stroke-dasharray="5,2.5"/>
<circle cx="248.4" cy="24.7" r="21.8" fill="#fff" stroke="#1a1a1a" stroke-width="1.30"/>
<rect x="244.8" y="15.6" width="7" height="20.3" rx="0.6" fill="#fff" stroke="#1a1a1a" stroke-width="1.1"/>
<ellipse cx="248.3" cy="6.2" rx="3.1" ry="1.25" fill="#fff" stroke="#1a1a1a" stroke-width="1"/>
<ellipse cx="248.3" cy="8.7" rx="3.1" ry="1.25" fill="#fff" stroke="#1a1a1a" stroke-width="1"/>
<ellipse cx="248.3" cy="11.2" rx="3.1" ry="1.25" fill="#fff" stroke="#1a1a1a" stroke-width="1"/>
<ellipse cx="248.3" cy="13.6" rx="3.1" ry="1.25" fill="#fff" stroke="#1a1a1a" stroke-width="1"/>
<rect x="244.8" y="14.6" width="7" height="1.6" fill="#1a1a1a"/>
<line x1="246.6" y1="36.0" x2="246.6" y2="42.6" stroke="#1a1a1a" stroke-width="1.04" />
<line x1="250.1" y1="36.0" x2="250.1" y2="42.6" stroke="#1a1a1a" stroke-width="1.04" />
<rect x="245.4" y="42.4" width="5.8" height="3.8" fill="#333" stroke="#1a1a1a" stroke-width="0.8"/>
<line x1="306.2" y1="70.7" x2="234.0" y2="72.5" stroke="#1a1a1a" stroke-width="1.04" />
<line x1="306.2" y1="71.5" x2="273.7" y2="83.3" stroke="#1a1a1a" stroke-width="1.04" />
<circle cx="322.9" cy="73.4" r="16.8" fill="#fff" stroke="#1a1a1a" stroke-width="1.30"/>
<path d="M317,69.8 L329,68.5 L332,70 L332.3,80.5 L329,82 L317,83.5 Z" fill="#fff" stroke="#1a1a1a" stroke-width="1"/>
<rect x="320.5" y="69.5" width="3" height="4" fill="#1a1a1a"/><rect x="324.5" y="68.5" width="2.6" height="6" fill="#1a1a1a"/>
<rect x="321" y="76" width="3" height="2" fill="#1a1a1a"/><rect x="321" y="79.5" width="6" height="2.5" fill="#1a1a1a"/>
<rect x="327.5" y="76.5" width="4.5" height="5" fill="#333"/><rect x="328.5" y="71" width="3" height="3" fill="#1a1a1a"/>
<ellipse cx="316.5" cy="76.6" rx="3.6" ry="7.3" fill="#fff" stroke="#1a1a1a" stroke-width="1.3"/>
<path d="M316.5,72.5 L316.5,80.7 M314.3,76.6 L318.7,76.6" stroke="#1a1a1a" stroke-width="1.4"/>
<line x1="310.3" y1="133.5" x2="272.7" y2="135.6" stroke="#1a1a1a" stroke-width="1.04" />
<line x1="310.3" y1="134.5" x2="273.7" y2="183.3" stroke="#1a1a1a" stroke-width="1.04" />
<line x1="310.3" y1="132.5" x2="273.7" y2="87.4" stroke="#1a1a1a" stroke-width="1.04" />
<circle cx="321.6" cy="131.7" r="12" fill="#fff" stroke="#1a1a1a" stroke-width="1.30"/>
<g transform="translate(311.6,133.5) rotate(-15)"><rect x="0" y="-2.6" width="19" height="5.2" rx="1.2" fill="#fff" stroke="#1a1a1a" stroke-width="1.2"/><line x1="2.5" y1="-0.8" x2="18" y2="-0.8" stroke="#1a1a1a" stroke-width="0.7"/><line x1="2.5" y1="1.3" x2="18" y2="1.3" stroke="#1a1a1a" stroke-width="0.9"/><ellipse cx="1" cy="0" rx="1.4" ry="2.6" fill="#444" stroke="#1a1a1a" stroke-width="0.8"/></g>
<line x1="291.0" y1="202.2" x2="250.7" y2="114.2" stroke="#1a1a1a" stroke-width="1.04" />
<polygon points="250.7,114.2 251.4,118.8 253.8,117.8" fill="#1a1a1a"/>
<line x1="291.0" y1="202.2" x2="258.6" y2="167.6" stroke="#1a1a1a" stroke-width="1.04" />
<polygon points="258.6,167.6 260.7,171.8 262.6,170.0" fill="#1a1a1a"/>
<line x1="291.0" y1="202.2" x2="261.7" y2="206.9" stroke="#1a1a1a" stroke-width="1.04" />
<polygon points="261.7,206.9 266.3,207.5 265.9,204.9" fill="#1a1a1a"/>
<line x1="291.0" y1="202.2" x2="253.9" y2="257.2" stroke="#1a1a1a" stroke-width="1.04" />
<polygon points="253.9,257.2 257.5,254.2 255.3,252.7" fill="#1a1a1a"/>
<line x1="291.0" y1="202.2" x2="249.2" y2="301.3" stroke="#1a1a1a" stroke-width="1.04" />
<polygon points="249.2,301.3 252.1,297.7 249.8,296.6" fill="#1a1a1a"/>
<polygon points="298.4,198.5 342,210.6 350.3,211.5 351.3,222.7 345.7,223.6 345.7,219 298.4,206.9" fill="#fff" stroke="#1a1a1a" stroke-width="1.2"/>
<line x1="298.6" y1="199.6" x2="342.0" y2="211.6" stroke="#1a1a1a" stroke-width="2.86" />
<line x1="300.0" y1="204.5" x2="344.0" y2="216.2" stroke="#1a1a1a" stroke-width="1.04" />
<line x1="345.7" y1="213.0" x2="345.7" y2="219.0" stroke="#1a1a1a" stroke-width="1.04" />
<line x1="349.5" y1="214.0" x2="350.0" y2="221.5" stroke="#1a1a1a" stroke-width="1.04" />
<circle cx="303" cy="203" r="0.9" fill="#333"/>
<circle cx="311" cy="205.2" r="0.9" fill="#333"/>
<circle cx="318" cy="207" r="0.9" fill="#333"/>
<circle cx="336.5" cy="212.5" r="0.8" fill="#333"/>
<line x1="308.6" y1="209.7" x2="317.8" y2="219.0" stroke="#1a1a1a" stroke-width="1.17" />
<line x1="319.7" y1="219.0" x2="343.8" y2="216.2" stroke="#1a1a1a" stroke-width="1.17" />
<circle cx="310" cy="227.6" r="10.8" fill="#fff" stroke="#1a1a1a" stroke-width="1.30"/>
<g transform="translate(303,228.3) rotate(-10)"><path d="M1.5,-2.4 L13,-1.8 L16.3,0 L13,1.8 L1.5,2.4 Z" fill="#1a1a1a"/><line x1="4.0" y1="-1.8" x2="4.8" y2="1.8" stroke="#999" stroke-width="0.5"/><line x1="5.8" y1="-1.8" x2="6.6" y2="1.8" stroke="#999" stroke-width="0.5"/><line x1="7.6" y1="-1.8" x2="8.4" y2="1.8" stroke="#999" stroke-width="0.5"/><line x1="9.4" y1="-1.8" x2="10.2" y2="1.8" stroke="#999" stroke-width="0.5"/><line x1="11.2" y1="-1.8" x2="12.0" y2="1.8" stroke="#999" stroke-width="0.5"/><ellipse cx="0" cy="0" rx="1.8" ry="3.6" fill="#fff" stroke="#1a1a1a" stroke-width="1"/><path d="M-1,0 L1,0 M0,-1.8 L0,1.8" stroke="#1a1a1a" stroke-width="0.8"/></g><polygon points="474.0,39.2 594.8,20.9 594.8,51.5 474.0,69.0" fill="#fff" stroke="#1a1a1a" stroke-width="1.43" stroke-linejoin="round"/>
<line x1="476.6" y1="39.5" x2="476.6" y2="68.0" stroke="#1a1a1a" stroke-width="1.04" />
<line x1="474.0" y1="37.6" x2="594.8" y2="19.3" stroke="#1a1a1a" stroke-width="2.08" />
<circle cx="475.3" cy="50.5" r="0.9" fill="#333"/>
<text x="522.5" y="53" font-size="17" text-anchor="middle" >8</text>
<polygon points="511.4,72.2 600.0,58.0 648.8,57.7 527.0,76.0" fill="#fff" stroke="#1a1a1a" stroke-width="1.30" stroke-linejoin="round"/>
<line x1="511.4" y1="72.2" x2="600.0" y2="58.0" stroke="#1a1a1a" stroke-width="1.30" />
<line x1="505.0" y1="70.0" x2="604.0" y2="55.0" stroke="#1a1a1a" stroke-width="1.17" />
<polygon points="511.4,72.2 528.0,75.7 528.0,98.5 511.4,96.6" fill="#fff" stroke="#1a1a1a" stroke-width="1.30" stroke-linejoin="round"/>
<text x="520" y="86" font-size="15" text-anchor="middle" >10</text>
<line x1="511.4" y1="96.6" x2="525.3" y2="98.4" stroke="#1a1a1a" stroke-width="1.30" />
<line x1="525.3" y1="98.4" x2="525.3" y2="102.0" stroke="#1a1a1a" stroke-width="1.30" />
<polygon points="603.4,24.5 657.4,41.5 657.4,72.5 603.4,57.7" fill="#fff" stroke="#1a1a1a" stroke-width="1.43" stroke-linejoin="round"/>
<polygon points="657.4,41.5 661.0,44.2 661.0,73.6 657.4,72.5" fill="#fff" stroke="#1a1a1a" stroke-width="1.30" stroke-linejoin="round"/>
<line x1="603.4" y1="23.2" x2="657.4" y2="40.3" stroke="#1a1a1a" stroke-width="1.82" />
<circle cx="603.9" cy="40" r="0.9" fill="#333"/>
<circle cx="657.8" cy="58.5" r="0.9" fill="#333"/>
<text x="628" y="53.5" font-size="17" text-anchor="middle" >6</text>
<polygon points="452.2,52.2 508.8,71.4 508.8,101.0 452.2,81.8" fill="#fff" stroke="#1a1a1a" stroke-width="1.43" stroke-linejoin="round"/>
<polygon points="508.8,71.4 511.4,72.2 511.4,101.4 508.8,101.0" fill="#fff" stroke="#1a1a1a" stroke-width="1.30" stroke-linejoin="round"/>
<line x1="452.2" y1="50.8" x2="508.8" y2="70.0" stroke="#1a1a1a" stroke-width="1.82" />
<circle cx="453" cy="67.5" r="0.9" fill="#333"/>
<circle cx="506.5" cy="86.2" r="0.9" fill="#333"/>
<text x="480.5" y="78.5" font-size="17" text-anchor="middle" >6</text>
<polygon points="528.0,75.7 648.8,57.7 648.8,77.5 528.0,105.5" fill="#fff" stroke="#1a1a1a" stroke-width="1.43" stroke-linejoin="round"/>
<line x1="530.6" y1="75.5" x2="530.6" y2="105.0" stroke="#1a1a1a" stroke-width="1.04" />
<line x1="528.0" y1="74.3" x2="648.8" y2="56.3" stroke="#1a1a1a" stroke-width="1.82" />
<circle cx="529.3" cy="90" r="0.9" fill="#333"/>
<polygon points="540.8,95.7 681.9,73.6 681.9,120.2 543.3,142.3" fill="#fff" stroke="#1a1a1a" stroke-width="1.56" stroke-linejoin="round"/>
<polygon points="540.8,95.7 543.5,95.3 543.5,142.0 540.8,142.5" fill="#fff" stroke="#1a1a1a" stroke-width="1.30" stroke-linejoin="round"/>
<line x1="540.8" y1="94.2" x2="681.9" y2="72.1" stroke="#1a1a1a" stroke-width="2.08" />
<text x="623" y="112" font-size="17" text-anchor="middle" >9</text>
<text x="582.5" y="84" font-size="17" text-anchor="middle" >7</text>
<line x1="435.8" y1="77.2" x2="454.0" y2="67.5" stroke="#1a1a1a" stroke-width="1.17" />
<line x1="435.8" y1="77.2" x2="506.2" y2="86.2" stroke="#1a1a1a" stroke-width="1.17" />
<circle cx="416.4" cy="72.3" r="19.7" fill="#fff" stroke="#1a1a1a" stroke-width="1.43"/>
<polygon points="401,69.8 407,70 434,67.2 435.5,69.5 434,71.8 407,74.3 401,74.8" fill="#1a1a1a" stroke="#1a1a1a" stroke-width="0.8"/>
<line x1="409.0" y1="68.8" x2="409.7" y2="73.6" stroke="#aaa" stroke-width="0.65" />
<line x1="411.1" y1="68.8" x2="411.8" y2="73.6" stroke="#aaa" stroke-width="0.65" />
<line x1="413.2" y1="68.8" x2="413.9" y2="73.6" stroke="#aaa" stroke-width="0.65" />
<line x1="415.3" y1="68.8" x2="416.0" y2="73.6" stroke="#aaa" stroke-width="0.65" />
<line x1="417.4" y1="68.8" x2="418.1" y2="73.6" stroke="#aaa" stroke-width="0.65" />
<line x1="419.5" y1="68.8" x2="420.2" y2="73.6" stroke="#aaa" stroke-width="0.65" />
<line x1="421.6" y1="68.8" x2="422.3" y2="73.6" stroke="#aaa" stroke-width="0.65" />
<line x1="423.7" y1="68.8" x2="424.4" y2="73.6" stroke="#aaa" stroke-width="0.65" />
<line x1="425.8" y1="68.8" x2="426.5" y2="73.6" stroke="#aaa" stroke-width="0.65" />
<line x1="427.9" y1="68.8" x2="428.6" y2="73.6" stroke="#aaa" stroke-width="0.65" />
<line x1="430.0" y1="68.8" x2="430.7" y2="73.6" stroke="#aaa" stroke-width="0.65" />
<line x1="432.1" y1="68.8" x2="432.8" y2="73.6" stroke="#aaa" stroke-width="0.65" />
<rect x="402.5" y="70.3" width="5" height="3.6" fill="#fff"/>
<ellipse cx="400.2" cy="72.4" rx="2.2" ry="3.4" fill="#fff" stroke="#1a1a1a" stroke-width="1.1"/>
<polygon points="448.5,95.2 503.4,111.3 503.4,116 508,119.3 503.4,118.2 453.5,103.5 448.5,102.5" fill="#fff" stroke="#1a1a1a" stroke-width="1"/>
<line x1="450.0" y1="95.8" x2="503.4" y2="111.8" stroke="#1a1a1a" stroke-width="2.34" />
<line x1="452.0" y1="99.5" x2="503.4" y2="114.5" stroke="#1a1a1a" stroke-width="0.91" />
<ellipse cx="449.3" cy="99.5" rx="2.3" ry="3.4" fill="#fff" stroke="#1a1a1a" stroke-width="1"/>
<circle cx="449.3" cy="99.5" r="1" fill="#fff" stroke="#1a1a1a" stroke-width="0.78"/>
<line x1="458.7" y1="105.0" x2="465.9" y2="120.9" stroke="#1a1a1a" stroke-width="1.17" />
<line x1="466.7" y1="121.7" x2="495.4" y2="117.7" stroke="#1a1a1a" stroke-width="1.17" />
<circle cx="462.5" cy="133.5" r="13.4" fill="#fff" stroke="#1a1a1a" stroke-width="1.43"/>
<polygon points="460.3,125 462.5,121.5 464.7,125 464.7,141 467.5,143.5 457.5,143.5 460.3,141" fill="#1a1a1a" stroke="#1a1a1a" stroke-width="0.8"/>
<line x1="460.3" y1="127.0" x2="464.7" y2="126.0" stroke="#aaa" stroke-width="0.65" />
<line x1="460.3" y1="129.0" x2="464.7" y2="128.0" stroke="#aaa" stroke-width="0.65" />
<line x1="460.3" y1="131.0" x2="464.7" y2="130.0" stroke="#aaa" stroke-width="0.65" />
<line x1="460.3" y1="133.0" x2="464.7" y2="132.0" stroke="#aaa" stroke-width="0.65" />
<line x1="460.3" y1="135.0" x2="464.7" y2="134.0" stroke="#aaa" stroke-width="0.65" />
<line x1="460.3" y1="137.0" x2="464.7" y2="136.0" stroke="#aaa" stroke-width="0.65" />
<line x1="460.3" y1="139.0" x2="464.7" y2="138.0" stroke="#aaa" stroke-width="0.65" />
<ellipse cx="462.5" cy="143.6" rx="5" ry="1.3" fill="#fff" stroke="#1a1a1a" stroke-width="0.9"/>
<line x1="525.7" y1="139.6" x2="512.3" y2="97.1" stroke="#1a1a1a" stroke-width="1.17" />
<line x1="525.7" y1="139.6" x2="526.9" y2="97.1" stroke="#1a1a1a" stroke-width="1.17" />
<circle cx="525.8" cy="149.8" r="10.5" fill="#fff" stroke="#1a1a1a" stroke-width="1.43"/>
<line x1="525.8" y1="139.5" x2="525.8" y2="160.0" stroke="#1a1a1a" stroke-width="1.95" />
<line x1="556.8" y1="57.7" x2="635.3" y2="74.8" stroke="#222" stroke-width="1.17" stroke-dasharray="4,2"/>
<circle cx="635.3" cy="74.8" r="1.0" fill="#333"/>
<line x1="556.8" y1="57.7" x2="604.6" y2="79.7" stroke="#222" stroke-width="1.17" stroke-dasharray="4,2"/>
<circle cx="604.6" cy="79.7" r="1.0" fill="#333"/>
<line x1="556.8" y1="57.7" x2="575.2" y2="84.6" stroke="#222" stroke-width="1.17" stroke-dasharray="4,2"/>
<circle cx="575.2" cy="84.6" r="1.0" fill="#333"/>
<line x1="556.8" y1="57.7" x2="544.5" y2="88.3" stroke="#222" stroke-width="1.17" stroke-dasharray="4,2"/>
<circle cx="544.5" cy="88.3" r="1.0" fill="#333"/>
<circle cx="549.4" cy="51.5" r="9" fill="#fff" stroke="#1a1a1a" stroke-width="1.43"/>
<line x1="543.5" y1="47.5" x2="553.5" y2="54.5" stroke="#222" stroke-width="3.38" stroke-linecap="round"/>
<text transform="translate(561.5,44) rotate(31)" font-size="18" text-anchor="middle">4x30</text></g>
<g stroke="#1a1a1a" stroke-width="1.25" fill="none">
<line x1="14.9" y1="373.00" x2="275.6" y2="373.00"/>
<line x1="14.9" y1="388.86" x2="275.6" y2="388.86"/>
<line x1="14.9" y1="404.72" x2="275.6" y2="404.72"/>
<line x1="14.9" y1="420.58" x2="275.6" y2="420.58"/>
<line x1="14.9" y1="436.44" x2="275.6" y2="436.44"/>
<line x1="14.9" y1="452.30" x2="275.6" y2="452.30"/>
<line x1="14.9" y1="468.16" x2="275.6" y2="468.16"/>
<line x1="14.9" y1="484.02" x2="275.6" y2="484.02"/>
<line x1="14.9" y1="499.88" x2="275.6" y2="499.88"/>
<line x1="14.9" y1="515.74" x2="275.6" y2="515.74"/>
<line x1="14.9" y1="531.60" x2="275.6" y2="531.60"/>
<line x1="14.9" y1="547.46" x2="275.6" y2="547.46"/>
<line x1="14.9" y1="563.32" x2="275.6" y2="563.32"/>
<line x1="15.5" y1="373.0" x2="15.5" y2="563.32"/>
<line x1="36.5" y1="373.0" x2="36.5" y2="563.32"/>
<line x1="184" y1="373.0" x2="184" y2="563.32"/>
<line x1="255" y1="373.0" x2="255" y2="563.32"/>
<line x1="275" y1="373.0" x2="275" y2="563.32"/>
<line x1="14.6" y1="592.8" x2="684.1" y2="592.8"/>
<line x1="14.6" y1="649.8" x2="684.1" y2="649.8"/>
<line x1="14.6" y1="674.4" x2="684.1" y2="674.4"/>
<line x1="14.6" y1="693.1" x2="684.1" y2="693.1"/>
<line x1="15.2" y1="592.8" x2="15.2" y2="693.1"/>
<line x1="68.4" y1="592.8" x2="68.4" y2="693.1"/>
<line x1="117.6" y1="592.8" x2="117.6" y2="693.1"/>
<line x1="177.0" y1="592.8" x2="177.0" y2="693.1"/>
<line x1="232.2" y1="592.8" x2="232.2" y2="693.1"/>
<line x1="270.6" y1="592.8" x2="270.6" y2="693.1"/>
<line x1="309.2" y1="592.8" x2="309.2" y2="693.1"/>
<line x1="350.4" y1="592.8" x2="350.4" y2="693.1"/>
<line x1="403.2" y1="592.8" x2="403.2" y2="693.1"/>
<line x1="455.7" y1="592.8" x2="455.7" y2="693.1"/>
<line x1="526.0" y1="592.8" x2="526.0" y2="693.1"/>
<line x1="567.8" y1="592.8" x2="567.8" y2="693.1"/>
<line x1="683.5" y1="592.8" x2="683.5" y2="693.1"/>
</g>
<g font-family="Liberation Serif, serif" font-size="14.6" fill="#111" stroke="#111" stroke-width="0.12">
<text x="26.0" y="385.90" text-anchor="middle">1</text>
<text x="40.7" y="385.90" textLength="99.2" lengthAdjust="spacingAndGlyphs">Боковина левая</text>
<text x="186.5" y="385.90" textLength="61.2" lengthAdjust="spacingAndGlyphs">1124x388</text>
<text x="265.0" y="385.90" text-anchor="middle">1</text>
<text x="26.0" y="401.76" text-anchor="middle">2</text>
<text x="40.7" y="401.76" textLength="107.9" lengthAdjust="spacingAndGlyphs">Боковина правая</text>
<text x="186.5" y="401.76" textLength="61.2" lengthAdjust="spacingAndGlyphs">1124x388</text>
<text x="265.0" y="401.76" text-anchor="middle">1</text>
<text x="26.0" y="417.62" text-anchor="middle">3</text>
<text x="40.6" y="417.62" textLength="96.6" lengthAdjust="spacingAndGlyphs">Крыша комода</text>
<text x="195.8" y="417.62" textLength="51.9" lengthAdjust="spacingAndGlyphs">704x406</text>
<text x="265.0" y="417.62" text-anchor="middle">1</text>
<text x="26.0" y="433.48" text-anchor="middle">4</text>
<text x="58.9" y="433.48" textLength="47.8" lengthAdjust="spacingAndGlyphs">Цоколь</text>
<text x="194.6" y="433.48" textLength="44.9" lengthAdjust="spacingAndGlyphs">668x74</text>
<text x="265.0" y="433.48" text-anchor="middle">3</text>
<text x="26.0" y="449.34" text-anchor="middle">5</text>
<text x="58.9" y="449.34" textLength="46.7" lengthAdjust="spacingAndGlyphs">Планка</text>
<text x="194.6" y="449.34" textLength="44.9" lengthAdjust="spacingAndGlyphs">668x60</text>
<text x="265.0" y="449.34" text-anchor="middle">5</text>
<text x="26.0" y="465.20" text-anchor="middle">6</text>
<text x="40.8" y="465.20" textLength="106.9" lengthAdjust="spacingAndGlyphs">Боковина ящика</text>
<text x="194.6" y="465.20" textLength="51.8" lengthAdjust="spacingAndGlyphs">350x110</text>
<text x="265.0" y="465.20" text-anchor="middle">10</text>
<text x="26.0" y="481.06" text-anchor="middle">7</text>
<text x="41.5" y="481.06" textLength="139.2" lengthAdjust="spacingAndGlyphs">Щит ящика передний</text>
<text x="194.2" y="481.06" textLength="53.5" lengthAdjust="spacingAndGlyphs">611x110</text>
<text x="265.0" y="481.06" text-anchor="middle">5</text>
<text x="26.0" y="496.92" text-anchor="middle">8</text>
<text x="41.5" y="496.92" textLength="123.0" lengthAdjust="spacingAndGlyphs">Щит ящика задний</text>
<text x="194.2" y="496.92" textLength="53.5" lengthAdjust="spacingAndGlyphs">611x110</text>
<text x="265.0" y="496.92" text-anchor="middle">5</text>
<text x="26.0" y="512.78" text-anchor="middle">9</text>
<text x="51.4" y="512.78" textLength="83.9" lengthAdjust="spacingAndGlyphs">Фасад ящика</text>
<text x="192.8" y="512.78" textLength="53.0" lengthAdjust="spacingAndGlyphs">696x170</text>
<text x="265.0" y="512.78" text-anchor="middle">5</text>
<text x="26.0" y="528.64" text-anchor="middle">10</text>
<text x="51.4" y="528.64" textLength="70.8" lengthAdjust="spacingAndGlyphs">Дно ящика</text>
<text x="193.5" y="528.64" textLength="52.3" lengthAdjust="spacingAndGlyphs">640x346</text>
<text x="265.0" y="528.64" text-anchor="middle">5</text>
<text x="26.0" y="544.50" text-anchor="middle">11</text>
<text x="48.8" y="544.50" textLength="91.4" lengthAdjust="spacingAndGlyphs">Стенка задняя</text>
<text x="186.5" y="544.50" textLength="59.3" lengthAdjust="spacingAndGlyphs">1105x347</text>
<text x="265.0" y="544.50" text-anchor="middle">2</text>
<text x="26.0" y="560.36" text-anchor="middle">12</text>
<text x="37.0" y="560.36" font-size="14" textLength="135.9" lengthAdjust="spacingAndGlyphs">Профиль соединительный</text>
<text x="185.3" y="560.36" textLength="67.0" lengthAdjust="spacingAndGlyphs">L=1077мм</text>
<text x="265.0" y="560.36" text-anchor="middle">1</text>
<text x="20.8" y="666.20" font-size="11.5" stroke-width="0.05" textLength="45.9" lengthAdjust="spacingAndGlyphs">Евровинт</text>
<text x="45.0" y="689.90" font-size="17" text-anchor="middle">26</text>
<text x="69.8" y="666.20" font-size="11.5" stroke-width="0.05" textLength="46.1" lengthAdjust="spacingAndGlyphs">Заглушка</text>
<text x="91.6" y="689.90" font-size="17" text-anchor="middle">6</text>
<text x="123.8" y="666.20" font-size="11.5" stroke-width="0.05" textLength="48.9" lengthAdjust="spacingAndGlyphs">Евроключ</text>
<text x="147.6" y="689.90" font-size="17" text-anchor="middle">1</text>
<text x="185.4" y="666.20" font-size="11.5" stroke-width="0.05" textLength="31.9" lengthAdjust="spacingAndGlyphs">Ножка</text>
<text x="201.3" y="689.90" font-size="17" text-anchor="middle">4</text>
<text x="233.7" y="666.20" font-size="11.5" stroke-width="0.05" textLength="34.6" lengthAdjust="spacingAndGlyphs">Гвоздь</text>
<text x="251.0" y="689.90" font-size="17" text-anchor="middle">90</text>
<text x="271.1" y="659.60" font-size="11.5" stroke-width="0.05" textLength="35.6" lengthAdjust="spacingAndGlyphs">Шуруп</text>
<text x="277.3" y="672.20" font-size="11.5" stroke-width="0.05" textLength="22.8" lengthAdjust="spacingAndGlyphs">4x16</text>
<text x="289.5" y="689.90" font-size="17" text-anchor="middle">40</text>
<text x="310.7" y="659.60" font-size="11.5" stroke-width="0.05" textLength="35.1" lengthAdjust="spacingAndGlyphs">Шуруп</text>
<text x="316.0" y="672.20" font-size="11.5" stroke-width="0.05" textLength="22.8" lengthAdjust="spacingAndGlyphs">4x30</text>
<text x="328.7" y="689.90" font-size="17" text-anchor="middle">20</text>
<text x="354.1" y="659.60" font-size="11.5" stroke-width="0.05" textLength="45.8" lengthAdjust="spacingAndGlyphs">Ввинчив.</text>
<text x="360.1" y="672.20" font-size="11.5" stroke-width="0.05" textLength="36.4" lengthAdjust="spacingAndGlyphs">дюбель</text>
<text x="371.3" y="689.90" font-size="17" text-anchor="middle">4</text>
<text x="404.5" y="659.60" font-size="11.5" stroke-width="0.05" textLength="49.4" lengthAdjust="spacingAndGlyphs">Эксцентр.</text>
<text x="411.5" y="672.20" font-size="11.5" stroke-width="0.05" textLength="33.3" lengthAdjust="spacingAndGlyphs">стяжка</text>
<text x="426.2" y="689.90" font-size="17" text-anchor="middle">4</text>
<text x="458.6" y="659.60" font-size="11.5" stroke-width="0.05" textLength="65.1" lengthAdjust="spacingAndGlyphs">Заглушка для</text>
<text x="461.2" y="672.20" font-size="11.5" stroke-width="0.05" textLength="59.9" lengthAdjust="spacingAndGlyphs">эксцентрика</text>
<text x="491.5" y="689.90" font-size="17" text-anchor="middle">4</text>
<text x="529.6" y="666.20" font-size="11.5" stroke-width="0.05" textLength="33.3" lengthAdjust="spacingAndGlyphs">Шкант</text>
<text x="548.2" y="689.90" font-size="17" text-anchor="middle">20</text>
<text x="572.7" y="659.60" font-size="11.5" stroke-width="0.05" textLength="103.8" lengthAdjust="spacingAndGlyphs">Комплект роликовых</text>
<text x="572.7" y="672.20" font-size="11.5" stroke-width="0.05" textLength="107.7" lengthAdjust="spacingAndGlyphs">направляющих L=350мм</text>
<text x="626.6" y="689.90" font-size="17" text-anchor="middle">5</text>
<text x="172.3" y="587.8" font-size="21.6" stroke-width="0.15" textLength="368" lengthAdjust="spacingAndGlyphs">Комплект фурнитуры для сборки комода</text>
</g>
</svg>
</body></html>
